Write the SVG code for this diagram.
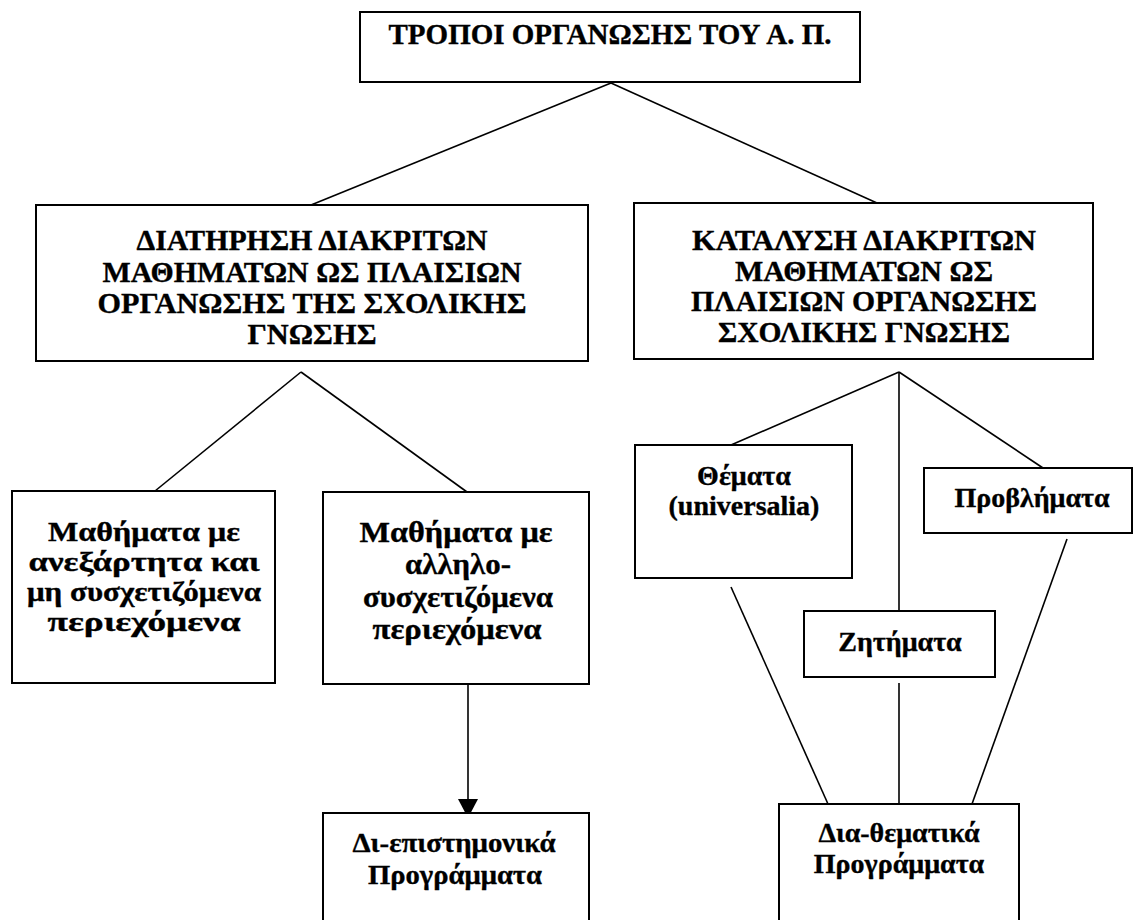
<svg xmlns="http://www.w3.org/2000/svg" width="1134" height="920" viewBox="0 0 1134 920">
  <style>
    .box { fill: #ffffff; stroke: #000000; stroke-width: 2; }
    .link { fill: none; stroke: #000000; stroke-width: 1.6; }
    text { font-family: "Liberation Serif", "Times New Roman", serif; font-weight: bold; fill: #000000; stroke: #000000; stroke-width: 0.35; text-anchor: middle; }
    .t28 { font-size: 28px; }
    .t29 { font-size: 29px; }
    .t30 { font-size: 30px; }
  </style>
  <rect width="1134" height="920" fill="#ffffff"/>

  <!-- connectors -->
  <g id="connectors">
    <line class="link" x1="611" y1="83" x2="311" y2="205"/>
    <line class="link" x1="611" y1="83" x2="877" y2="203"/>
    <line class="link" x1="301" y1="372" x2="155" y2="491"/>
    <line class="link" x1="301" y1="372" x2="467" y2="492"/>
    <line class="link" x1="899" y1="372" x2="731" y2="445"/>
    <line class="link" x1="899" y1="372" x2="899" y2="611"/>
    <line class="link" x1="899" y1="372" x2="1043" y2="468"/>
    <line class="link" x1="731" y1="587" x2="828" y2="804"/>
    <line class="link" x1="899" y1="683" x2="899" y2="804"/>
    <line class="link" x1="1067" y1="539" x2="972" y2="804"/>
    <line class="link" x1="468" y1="684" x2="468" y2="800"/>
    <path d="M458,799 L478,799 L468,818 Z" fill="#000000"/>
  </g>

  <!-- root -->
  <g id="root">
    <rect class="box" x="360" y="12" width="500" height="70"/>
    <text class="t29" x="610" y="44">ΤΡΟΠΟΙ ΟΡΓΑΝΩΣΗΣ ΤΟΥ Α. Π.</text>
  </g>

  <g id="keep-subjects">
    <rect class="box" x="36" y="205" width="552" height="156"/>
    <text class="t30" x="312" y="250" textLength="351" lengthAdjust="spacingAndGlyphs">ΔΙΑΤΗΡΗΣΗ ΔΙΑΚΡΙΤΩΝ</text>
    <text class="t30" x="312" y="282" textLength="419" lengthAdjust="spacingAndGlyphs">ΜΑΘΗΜΑΤΩΝ ΩΣ ΠΛΑΙΣΙΩΝ</text>
    <text class="t30" x="312" y="313" textLength="429" lengthAdjust="spacingAndGlyphs">ΟΡΓΑΝΩΣΗΣ ΤΗΣ ΣΧΟΛΙΚΗΣ</text>
    <text class="t30" x="312" y="344" textLength="129" lengthAdjust="spacingAndGlyphs">ΓΝΩΣΗΣ</text>
  </g>

  <g id="dissolve-subjects">
    <rect class="box" x="634" y="203" width="459" height="156"/>
    <text class="t30" x="864" y="250" textLength="344" lengthAdjust="spacingAndGlyphs">ΚΑΤΑΛΥΣΗ ΔΙΑΚΡΙΤΩΝ</text>
    <text class="t30" x="864" y="281" textLength="258" lengthAdjust="spacingAndGlyphs">ΜΑΘΗΜΑΤΩΝ ΩΣ</text>
    <text class="t30" x="864" y="311" textLength="346" lengthAdjust="spacingAndGlyphs">ΠΛΑΙΣΙΩΝ ΟΡΓΑΝΩΣΗΣ</text>
    <text class="t30" x="864" y="342" textLength="292" lengthAdjust="spacingAndGlyphs">ΣΧΟΛΙΚΗΣ ΓΝΩΣΗΣ</text>
  </g>

  <g id="independent">
    <rect class="box" x="12" y="491" width="263" height="192"/>
    <text class="t28" x="144" y="541" textLength="192" lengthAdjust="spacingAndGlyphs">Μαθήματα με</text>
    <text class="t28" x="144" y="571" textLength="231" lengthAdjust="spacingAndGlyphs">ανεξάρτητα και</text>
    <text class="t28" x="144" y="601" textLength="234" lengthAdjust="spacingAndGlyphs">μη συσχετιζόμενα</text>
    <text class="t28" x="144" y="631" textLength="193" lengthAdjust="spacingAndGlyphs">περιεχόμενα</text>
  </g>

  <g id="correlated">
    <rect class="box" x="323" y="492" width="266" height="192"/>
    <text class="t30" x="456" y="542" textLength="193" lengthAdjust="spacingAndGlyphs">Μαθήματα με</text>
    <text class="t30" x="458" y="574" textLength="106" lengthAdjust="spacingAndGlyphs">αλληλο-</text>
    <text class="t30" x="458" y="607" textLength="190" lengthAdjust="spacingAndGlyphs">συσχετιζόμενα</text>
    <text class="t30" x="457" y="639" textLength="169" lengthAdjust="spacingAndGlyphs">περιεχόμενα</text>
  </g>

  <g id="interdisciplinary">
    <rect class="box" x="323" y="813" width="266" height="120"/>
    <text class="t28" x="454" y="852" textLength="203" lengthAdjust="spacingAndGlyphs">Δι-επιστημονικά</text>
    <text class="t28" x="455" y="884" textLength="174" lengthAdjust="spacingAndGlyphs">Προγράμματα</text>
  </g>

  <g id="themes">
    <rect class="box" x="635" y="445" width="217" height="133"/>
    <text class="t28" x="744" y="485">Θέματα</text>
    <text class="t28" x="744" y="515">(universalia)</text>
  </g>

  <g id="issues">
    <rect class="box" x="804" y="611" width="191" height="66"/>
    <text class="t28" x="900" y="651">Ζητήματα</text>
  </g>

  <g id="problems">
    <rect class="box" x="924" y="468" width="208" height="65"/>
    <text class="t28" x="1032" y="507">Προβλήματα</text>
  </g>

  <g id="thematic">
    <rect class="box" x="779" y="804" width="240" height="130"/>
    <text class="t28" x="899" y="842">Δια-θεματικά</text>
    <text class="t28" x="899" y="873">Προγράμματα</text>
  </g>
</svg>
